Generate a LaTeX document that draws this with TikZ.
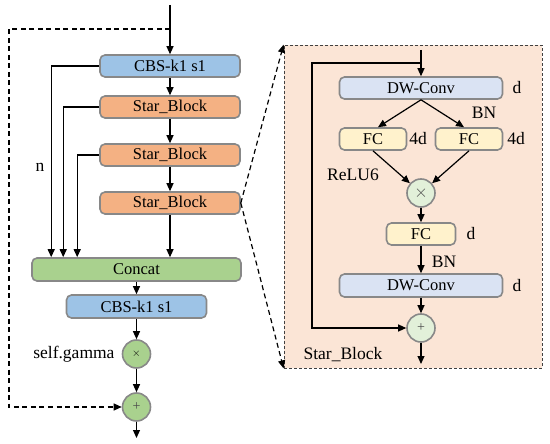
\documentclass[tikz,border=0pt]{standalone}
\usepackage{fontspec}
\setmainfont{Liberation Serif}
\usetikzlibrary{arrows.meta,positioning,calc}

\definecolor{cbsblue}{HTML}{9DC3E6}
\definecolor{starorange}{HTML}{F4B183}
\definecolor{catgreen}{HTML}{A9D18E}
\definecolor{panelfill}{HTML}{FBE5D6}
\definecolor{dwblue}{HTML}{DAE3F3}
\definecolor{fcyellow}{HTML}{FFF2CC}
\definecolor{oplight}{HTML}{E2F0D9}
\definecolor{edgegray}{HTML}{888888}

\begin{document}
\begin{tikzpicture}[
    x=1pt, y=-1pt,
    blk/.style={draw=edgegray, line width=1.6pt, rounded corners=5pt, minimum height=22pt,
                inner sep=0pt, font=\fontsize{16.5}{18}\selectfont},
    cbs/.style={blk, fill=cbsblue, minimum width=140pt},
    starblk/.style={blk, fill=starorange, minimum width=140pt},
    cat/.style={blk, fill=catgreen, minimum width=209pt, minimum height=23pt},
    dwconv/.style={blk, fill=dwblue, minimum width=163pt},
    fc/.style={blk, fill=fcyellow, minimum width=67pt},
    op/.style={circle, draw=edgegray, line width=1.6pt, minimum size=28pt, inner sep=0pt},
    flow/.style={-{Triangle[length=8pt,width=7pt]}, line width=1.2pt},
    skip/.style={flow, dash pattern=on 5pt off 3.5pt},
    annot/.style={font=\fontsize{17.5}{19}\selectfont, inner sep=0pt},
    panelbox/.style={draw=black!75, fill=panelfill, line width=0.8pt, dash pattern=on 3pt off 2pt},
]
\useasboundingbox (0,0) rectangle (550,444);

% ---- 右侧面板底色 ----
\node[panelbox, minimum width=258pt, minimum height=323pt] (panel) at (413,206.5) {};

% ---- 左侧主干 ----
\node[cbs]     (cbs1)   at (170,66)    {CBS-k1 s1};
\node[starblk] (star1)  at (170,107)   {Star\_Block};
\node[starblk] (star2)  at (170,155)   {Star\_Block};
\node[starblk] (star3)  at (170,203)   {Star\_Block};
\node[cat]     (concat) at (136.5,269.5) {Concat};
\node[cbs, minimum height=23pt] (cbs2) at (136.5,306.5) {CBS-k1 s1};
\node[op, fill=catgreen] (mult) at (136.5,354) {\fontsize{11}{12}\selectfont $\times$};
\node[op, fill=catgreen] (plus) at (136.5,407) {\fontsize{14}{14}\selectfont\color{black!70}+};

\coordinate (in)    at (170,5);
\coordinate (tap)   at (170,29);
\coordinate (dcorner) at (9,29);
\coordinate (out)   at (136.5,438);

\draw[flow] (in) -- (cbs1);
\draw[flow] (cbs1) -- (star1);
\draw[flow] (star1) -- (star2);
\draw[flow] (star2) -- (star3);
\draw[flow] (star3.south) -- (star3.south |- concat.north);
\draw[flow] (concat) -- (cbs2);
\draw[flow] (cbs2) -- (mult);
\draw[flow] (mult) -- (plus);
\draw[flow] (plus) -- (out);

% ---- 分支连线 ----
\draw[flow] (cbs1.west)  -| ($(concat.north west)+(20,0)$);
\draw[flow] (star1.west) -| ($(concat.north west)+(32,0)$);
\draw[flow] (star2.west) -| ($(concat.north west)+(46,0)$);

% ---- 残差虚线 ----
\draw[skip] (tap) -- (dcorner) |- (plus.west);

% ---- 左侧标注 ----
\node[annot] (nlab) at (40,167) {n};
\node[annot, left=7pt of mult] (gamma) {self.gamma};

% ---- 放大虚线 ----
\draw[skip] (star3.east) -- (panel.north west);
\draw[skip] (star3.east) -- (panel.south west);

% ===== Star_Block 内部 =====
\node[dwconv] (dw1) at (421,88)  {DW-Conv};
\node[fc]     (fc1) at (373,139) {FC};
\node[fc]     (fc2) at (469,139) {FC};
\node[op, fill=oplight] (mulr) at (421,193) {\fontsize{18}{18}\selectfont\color{black!70}$\times$};
\node[fc, minimum width=69pt] (fc3) at (421,234) {FC};
\node[dwconv, minimum height=23pt] (dw2) at (421,285.5) {DW-Conv};
\node[op, fill=oplight] (plusr) at (421,328) {\fontsize{14}{14}\selectfont\color{black!70}+};

\coordinate (rin)     at (421,50);
\coordinate (rtap)    at (421,63);
\coordinate (rcorner) at (312,63);
\coordinate (rout)    at (421,364);

\draw[flow] (rin) -- (dw1);
\draw[flow] (dw1.south) -- ($(fc1.north)+(5,0)$);
\draw[flow] (dw1.south) -- ($(fc2.north)+(-5,0)$);
\draw[flow] (fc1.south) -- (mulr);
\draw[flow] (fc2.south) -- (mulr);
\draw[flow] (mulr) -- (fc3);
\draw[flow] (fc3) -- (dw2);
\draw[flow] (dw2) -- (plusr);
\draw[flow] (plusr) -- (rout);
\draw[flow] (rtap) -- (rcorner) |- (plusr.west);

% ---- 内部标注 ----
\node[annot] (d1)    at (517,88)  {d};
\node[annot] (bn1)   at (484,113) {BN};
\node[annot] (q1)    at (418,139) {4d};
\node[annot] (q2)    at (516,139) {4d};
\node[annot] (relu)  at (353,175) {ReLU6};
\node[annot] (d2)    at (471,234) {d};
\node[annot] (bn2)   at (444,262) {BN};
\node[annot] (d3)    at (517,286) {d};
\node[annot] (title) at (343,355) {Star\_Block};

\end{tikzpicture}
\end{document}
